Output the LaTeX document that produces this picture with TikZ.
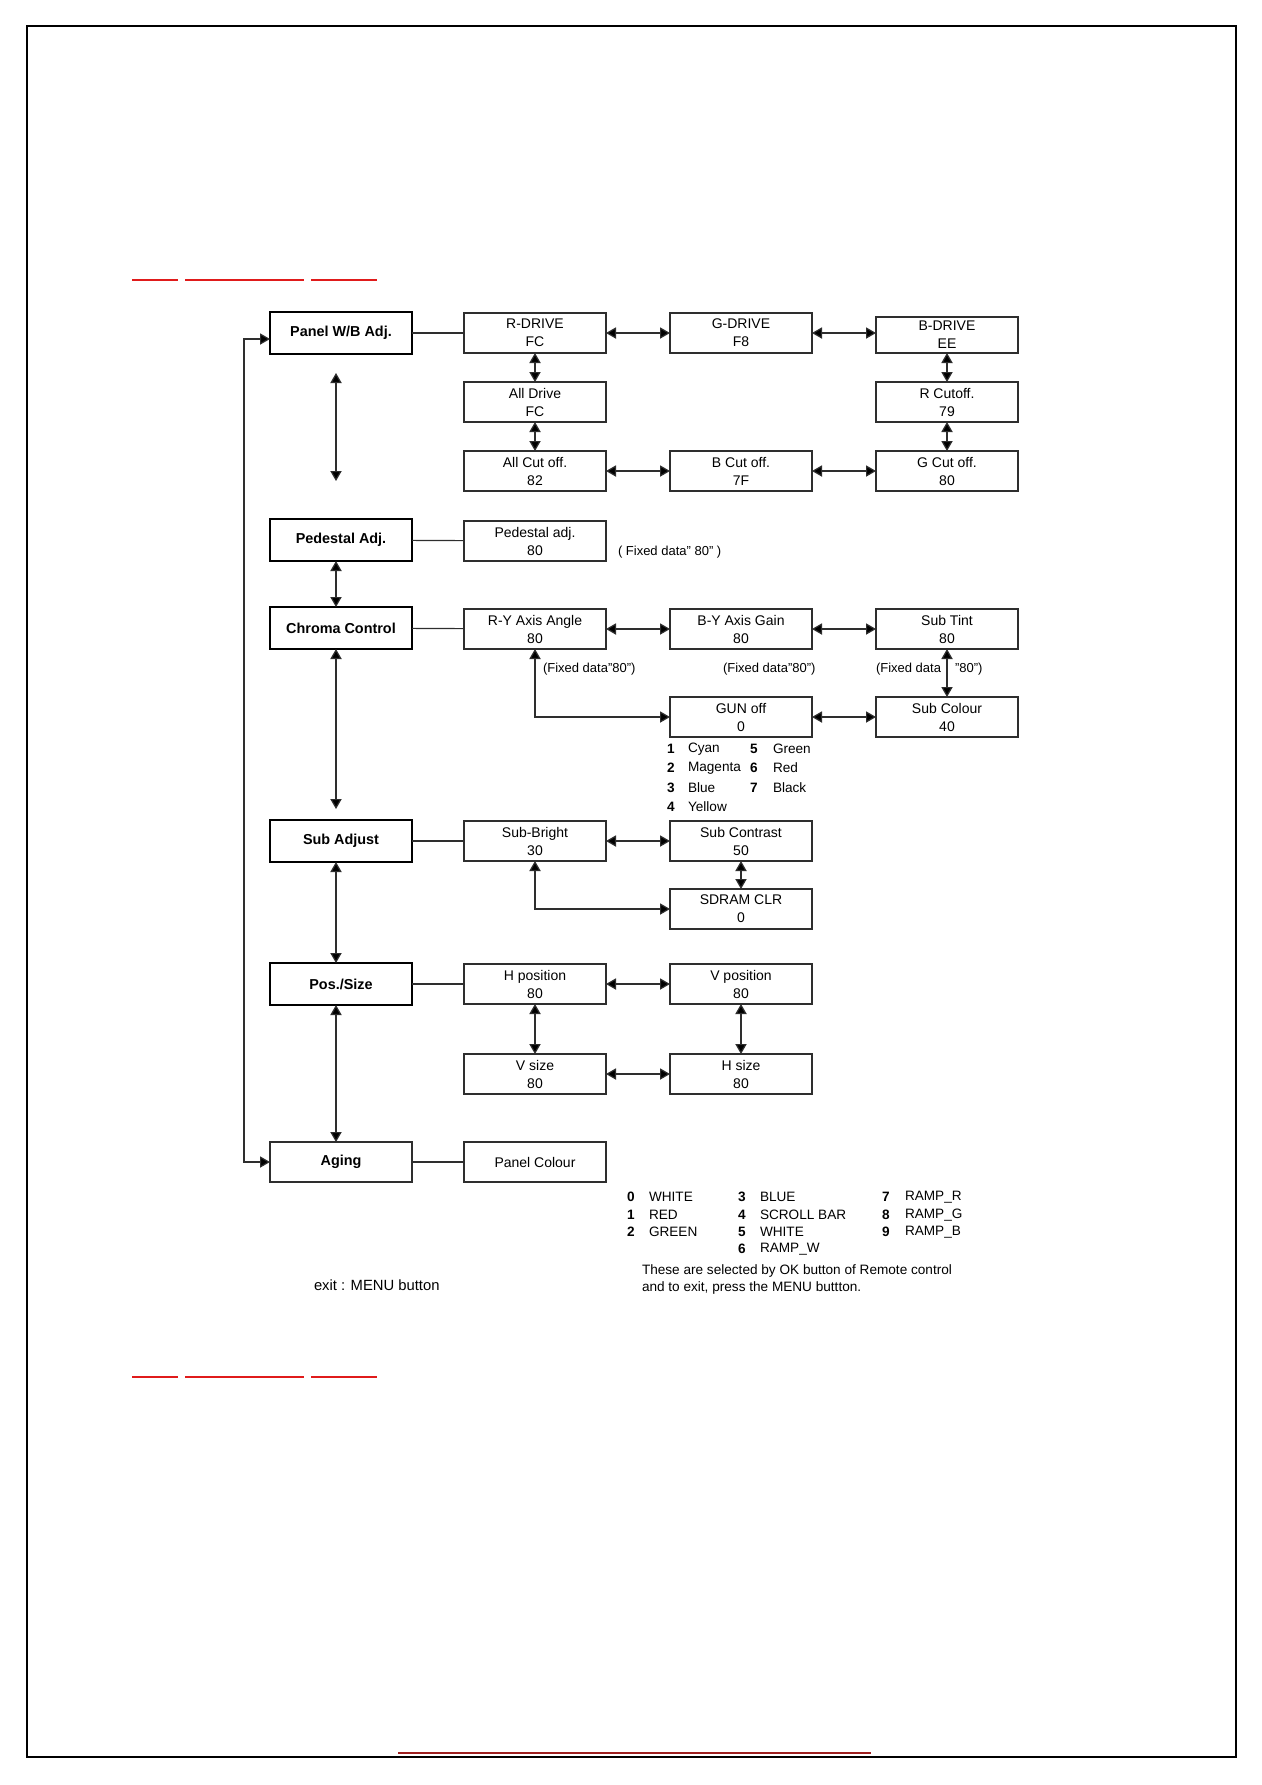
\documentclass[tikz,border=0pt]{standalone}
\usepackage{fontspec}
\setmainfont{Liberation Sans}
\usetikzlibrary{arrows.meta,calc}
\definecolor{lnk}{HTML}{2E2E2E}
\definecolor{redline}{HTML}{E01B1B}
\definecolor{darkred}{HTML}{9E1F1F}
\begin{document}
\begin{tikzpicture}[x=0.5pt,y=-0.5pt,
  every node/.style={inner sep=0pt, outer sep=0pt},
  mainbox/.style={draw=black, line width=1.4pt, minimum width=71pt, minimum height=21pt, font=\fontsize{7.2}{8.5}\selectfont\bfseries},
  valbox/.style={draw=lnk, line width=0.6pt, minimum width=71pt, minimum height=20pt, align=center, font=\fontsize{7}{9}\selectfont},
  link/.style={draw=lnk, line width=0.6pt},
  tip/.tip={Triangle[length=5pt,width=5.6pt,fill=black]},
  dbl/.style={link, tip-tip},
  note/.style={anchor=west, font=\fontsize{6.5}{7.5}\selectfont},
  lst/.style={anchor=west, font=\fontsize{6.8}{8}\selectfont},
  num/.style={anchor=west, font=\fontsize{6.8}{8}\selectfont\bfseries},
]
\useasboundingbox (0,0) rectangle (1262,1785);
% page frame
\draw[line width=0.6pt] (27,26) rectangle (1236,1757);
% red rules
\foreach \yy in {280,1377}{
  \draw[redline, line width=0.7pt] (132,\yy) -- (178,\yy);
  \draw[redline, line width=0.7pt] (185,\yy) -- (304,\yy);
  \draw[redline, line width=0.7pt] (311,\yy) -- (377,\yy);
}
\draw[darkred, line width=1pt] (398,1753) -- (871,1753);

% main column
\node[mainbox] (panel) at (341,333) {Panel W/B Adj.};
\node[mainbox] (ped) at (341,540) {Pedestal Adj.};
\node[mainbox] (chroma) at (341,628) {Chroma Control};
\node[mainbox] (subadj) at (341,841) {Sub Adjust};
\node[mainbox] (pos) at (341,984) {Pos./Size};
\node[valbox, font=\fontsize{7.2}{8.5}\selectfont\bfseries] (aging) at (341,1162) {Aging};

% column B
\node[valbox] (rdrive) at (535,333) {R-DRIVE\\FC};
\node[valbox] (alldrive) at (535,402) {All Drive\\FC};
\node[valbox] (allcut) at (535,471) {All Cut off.\\82};
\node[valbox] (pedadj) at (535,541) {Pedestal adj.\\80};
\node[valbox] (ry) at (535,629) {R-Y Axis Angle\\80};
\node[valbox] (sbright) at (535,841) {Sub-Bright\\30};
\node[valbox] (hpos) at (535,984) {H position\\80};
\node[valbox] (vsize) at (535,1074) {V size\\80};
\node[valbox] (pcolour) at (535,1162) {Panel Colour};

% column C
\node[valbox] (gdrive) at (741,333) {G-DRIVE\\F8};
\node[valbox] (bcut) at (741,471) {B Cut off.\\7F};
\node[valbox] (by) at (741,629) {B-Y Axis Gain\\80};
\node[valbox] (gun) at (741,717) {GUN off\\0};
\node[valbox] (scontrast) at (741,841) {Sub Contrast\\50};
\node[valbox] (sdram) at (741,909) {SDRAM CLR\\0};
\node[valbox] (vpos) at (741,984) {V position\\80};
\node[valbox] (hsize) at (741,1074) {H size\\80};

% column D
\node[valbox, minimum height=18pt] (bdrive) at (947,335) {B-DRIVE\\EE};
\node[valbox] (rcut) at (947,402) {R Cutoff.\\79};
\node[valbox] (gcut) at (947,471) {G Cut off.\\80};
\node[valbox] (stint) at (947,629) {Sub Tint\\80};
\node[valbox] (scolour) at (947,717) {Sub Colour\\40};

% helper coordinates
\coordinate (ax) at (336,0);
\coordinate (fa1) at (336,373);
\coordinate (fa2) at (336,481);
\coordinate (c1) at (336,809);
\coordinate (fb) at (244,339);

% connectors: Panel W/B
\draw[link] (panel) -- (rdrive);
\draw[dbl] (rdrive) -- (gdrive);
\draw[dbl] (gdrive.east) -- (gdrive.east -| bdrive.west);
\draw[dbl] (rdrive) -- (alldrive);
\draw[dbl] (alldrive) -- (allcut);
\draw[dbl] (bdrive) -- (rcut);
\draw[dbl] (rcut) -- (gcut);
\draw[dbl] (allcut) -- (bcut);
\draw[dbl] (bcut) -- (gcut);
\draw[dbl] (fa1) -- (fa2);
% Pedestal
\draw[link] (ped) -- (pedadj);
\draw[dbl] (ped.south -| ax) -- (chroma.north -| ax);
% Chroma
\draw[link] (chroma) -- (ry);
\draw[dbl] (ry) -- (by);
\draw[dbl] (stint) -- (by);
\draw[dbl] (stint) -- (scolour);
\draw[dbl] (ry.south) |- (gun.west);
\draw[dbl] (gun) -- (scolour);
\draw[dbl] (chroma.south -| ax) -- (c1);
% Sub adjust
\draw[link] (subadj) -- (sbright);
\draw[dbl] (scontrast) -- (sbright);
\draw[dbl] (scontrast) -- (sdram);
\draw[dbl] (sbright.south) |- (sdram.west);
\draw[dbl] (subadj.south -| ax) -- (pos.north -| ax);
% Pos/Size
\draw[link] (pos) -- (hpos);
\draw[dbl] (hpos) -- (vpos);
\draw[dbl] (hpos) -- (vsize);
\draw[dbl] (vpos) -- (hsize);
\draw[dbl] (vsize) -- (hsize);
\draw[dbl] (pos.south -| ax) -- (aging.north -| ax);
% Aging
\draw[link] (aging) -- (pcolour);
\draw[dbl] (aging.west) -| (fb) -- (fb -| panel.west);

% notes
\node[note] at (618,552) {( Fixed data” 80” )};
\node[note] at (543,669) {(Fixed data”80”)};
\node[note] at (723,669) {(Fixed data”80”)};
\node[note] at (876,669) {(Fixed data\hspace{7pt}”80”)};

% gun off list
\foreach \n/\t/\yy in {1/Cyan/749, 2/Magenta/768, 3/Blue/788, 4/Yellow/807}{
  \node[num] at (667,\yy) {\n};
  \node[lst] at (688,\yy) {\t};
}
\foreach \n/\t/\yy in {5/Green/749, 6/Red/768, 7/Black/788}{
  \node[num] at (750,\yy) {\n};
  \node[lst] at (773,\yy) {\t};
}

% aging list
\foreach \n/\t/\yy in {0/WHITE/1197, 1/RED/1215, 2/GREEN/1232}{
  \node[num] at (627,\yy) {\n};
  \node[lst] at (649,\yy) {\t};
}
\foreach \n/\t/\yy in {3/BLUE/1197, 4/SCROLL BAR/1215, 5/WHITE/1232, 6/RAMP\_W/1249}{
  \node[num] at (738,\yy) {\n};
  \node[lst] at (760,\yy) {\t};
}
\foreach \n/\t/\yy in {7/RAMP\_R/1197, 8/RAMP\_G/1215, 9/RAMP\_B/1232}{
  \node[num] at (882,\yy) {\n};
  \node[lst] at (905,\yy) {\t};
}
\node[lst] at (642,1271) {These are selected by OK button of Remote control};
\node[lst] at (642,1288) {and to exit, press the MENU buttton.};
\node[anchor=west, font=\fontsize{7.4}{9}\selectfont] at (314,1285) {exit : MENU button};
\end{tikzpicture}
\end{document}
